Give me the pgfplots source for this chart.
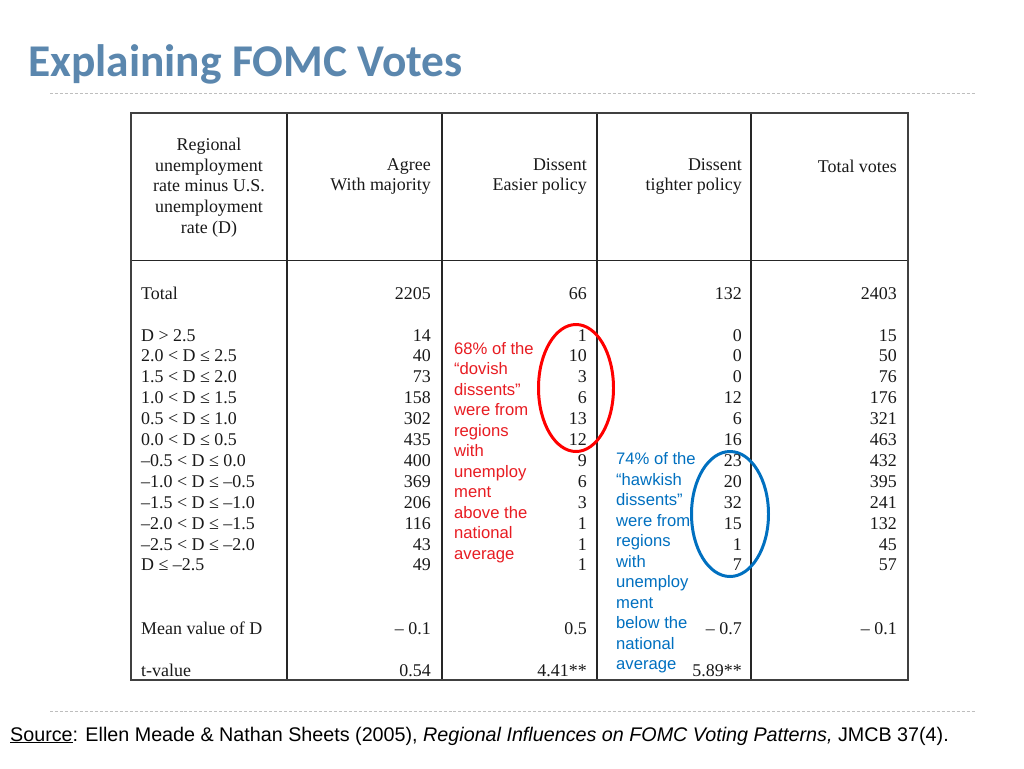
\documentclass[border=0pt]{standalone}
\usepackage{pgfplots}
\pgfplotsset{compat=1.18}
\usepackage{pgfplotstable}
\usepackage{fontspec}
\setmainfont{Liberation Serif}
\newfontfamily\arial{Liberation Sans}
\newfontfamily\calibri{Carlito}
\definecolor{titleblue}{RGB}{91,135,174}
\definecolor{annred}{RGB}{232,28,34}
\definecolor{annblue}{RGB}{0,112,192}
\definecolor{dashgray}{RGB}{190,190,190}
\newcommand\tabfont{\fontsize{18}{20.8}\selectfont}

\pgfplotstableread[col sep=comma]{
y,label,agree,easier,tighter,total
299,Total,2205,66,132,2403
341,D > 2.5,14,1,0,15
361.9,2.0 < D ≤ 2.5,40,10,0,50
382.8,1.5 < D ≤ 2.0,73,3,0,76
403.7,1.0 < D ≤ 1.5,158,6,12,176
424.6,0.5 < D ≤ 1.0,302,13,6,321
445.5,0.0 < D ≤ 0.5,435,12,16,463
466.4,–0.5 < D ≤ 0.0,400,9,23,432
487.3,–1.0 < D ≤ –0.5,369,6,20,395
508.2,–1.5 < D ≤ –1.0,206,3,32,241
529.1,–2.0 < D ≤ –1.5,116,1,15,132
550.0,–2.5 < D ≤ –2.0,43,1,1,45
570.9,D ≤ –2.5,49,1,7,57
634,Mean value of D,– 0.1,0.5,– 0.7,– 0.1
676,t-value,0.54,4.41**,5.89**,{}
}\fomc

\begin{document}
\begin{tikzpicture}
\begin{axis}[
  scale only axis, width=1024bp, height=768bp,
  xmin=0, xmax=1024, ymin=0, ymax=768, y dir=reverse,
  hide axis, clip=false,
  every node near coord/.append style={inner sep=0pt, font=\tabfont, text=black!90},
]
% background
\fill[white] (axis cs:0,0) rectangle (axis cs:1024,768);

% title
\node[anchor=base west, inner sep=0pt, text=titleblue, font=\calibri\bfseries\fontsize{45.6}{48}\selectfont] at (axis cs:28,77) {Explaining FOMC Votes};
\draw[dashgray, line width=0.8pt, dash pattern=on 3pt off 2pt] (axis cs:50,93) -- (axis cs:975,93);
\draw[dashgray, line width=0.8pt, dash pattern=on 3pt off 2pt] (axis cs:50,711) -- (axis cs:975,711);

% table rules
\draw[black!85, line width=1.4pt] (axis cs:287,113) -- (axis cs:287,680);
\draw[black!85, line width=1.4pt] (axis cs:442,113) -- (axis cs:442,680);
\draw[black!85, line width=1.4pt] (axis cs:597,113) -- (axis cs:597,680);
\draw[black!85, line width=1.4pt] (axis cs:751,113) -- (axis cs:751,680);
\draw[black!85, line width=1.4pt] (axis cs:131,260.5) -- (axis cs:908,260.5);
\draw[black!75, line width=2.4pt] (axis cs:131,113) rectangle (axis cs:908,680);

% header
\node[align=center, inner sep=0pt, font=\tabfont, text=black!90] at (axis cs:209,187.5) {Regional\\unemployment\\rate minus U.S.\\unemployment\\rate (D)};
\node[align=right, anchor=east, inner sep=0pt, font=\tabfont, text=black!90] at (axis cs:431,176.5) {Agree\\With majority};
\node[align=right, anchor=east, inner sep=0pt, font=\tabfont, text=black!90] at (axis cs:587,176.5) {Dissent\\Easier policy};
\node[align=right, anchor=east, inner sep=0pt, font=\tabfont, text=black!90] at (axis cs:742,176.5) {Dissent\\tighter policy};
\node[anchor=base east, inner sep=0pt, font=\tabfont, text=black!90] at (axis cs:897,172) {Total votes};

% body from data
\addplot[draw=none, mark=none, nodes near coords, point meta=explicit symbolic,
  every node near coord/.append style={anchor=base west}]
  table[x expr=141, y=y, meta=label] {\fomc};
\addplot[draw=none, mark=none, nodes near coords, point meta=explicit symbolic,
  every node near coord/.append style={anchor=base east}]
  table[x expr=431, y=y, meta=agree] {\fomc};
\addplot[draw=none, mark=none, nodes near coords, point meta=explicit symbolic,
  every node near coord/.append style={anchor=base east}]
  table[x expr=587, y=y, meta=easier] {\fomc};
\addplot[draw=none, mark=none, nodes near coords, point meta=explicit symbolic,
  every node near coord/.append style={anchor=base east}]
  table[x expr=742, y=y, meta=tighter] {\fomc};
\addplot[draw=none, mark=none, nodes near coords, point meta=explicit symbolic,
  every node near coord/.append style={anchor=base east}]
  table[x expr=897, y=y, meta=total] {\fomc};

% annotations
\node[align=left, inner sep=0pt, text=annred, font=\arial\fontsize{16.7}{20.6}\selectfont, anchor=west] at (axis cs:454,452.5) {68\% of the\\“dovish\\dissents”\\were from\\regions\\with\\unemploy\\ment\\above the\\national\\average};
\node[align=left, inner sep=0pt, text=annblue, font=\arial\fontsize{16.7}{20.6}\selectfont, anchor=west] at (axis cs:616,563) {74\% of the\\“hawkish\\dissents”\\were from\\regions\\with\\unemploy\\ment\\below the\\national\\average};
\draw[red, line width=3pt] (axis cs:576,388) ellipse [x radius=37.5bp, y radius=63.5bp];
\draw[annblue, line width=3pt] (axis cs:730,514) ellipse [x radius=38.5bp, y radius=62.5bp];

% source
\node[anchor=base west, inner sep=0pt, font=\arial\fontsize{19.8}{22}\selectfont] at (axis cs:10,741) {\underline{Source}: Ellen Meade \& Nathan Sheets (2005), \textit{Regional Influences on FOMC Voting Patterns,} JMCB 37(4).};
\end{axis}
\end{tikzpicture}
\end{document}
